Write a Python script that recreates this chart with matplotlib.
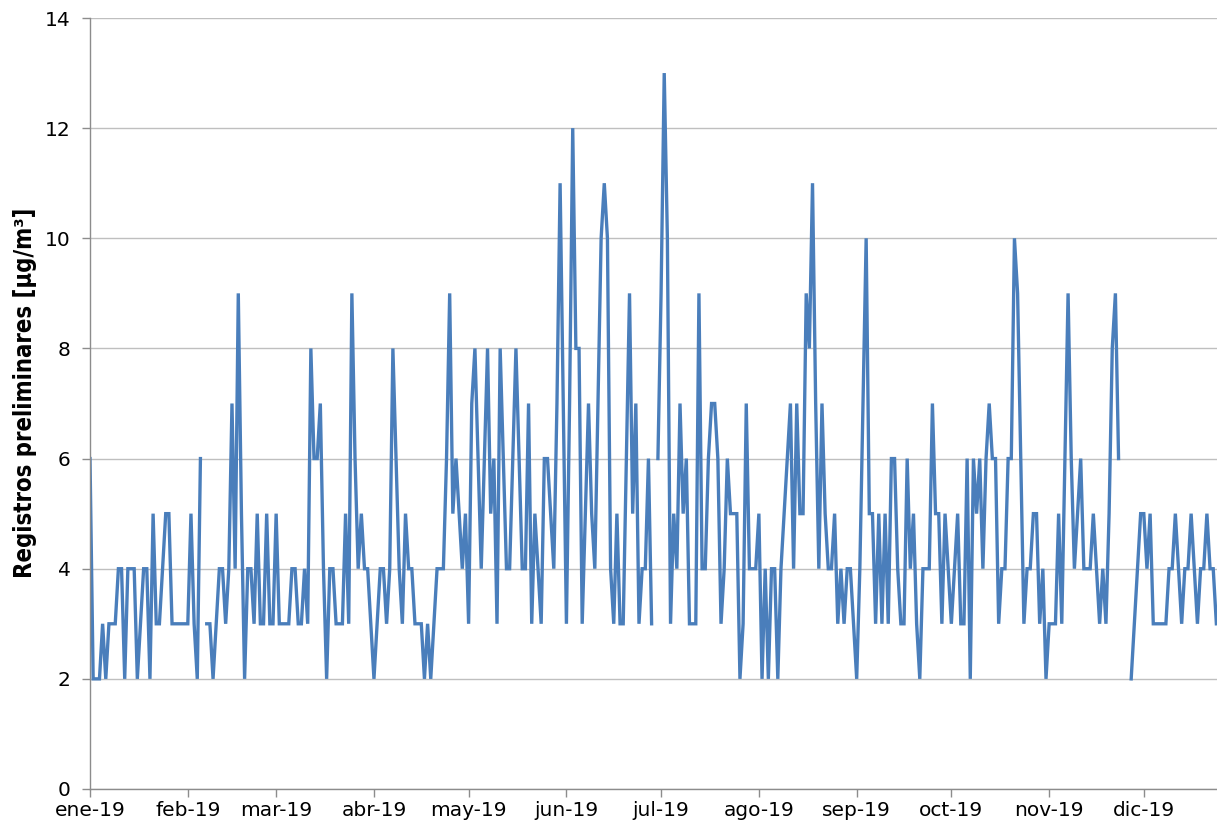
import numpy as np
import pandas as pd
import matplotlib
matplotlib.use('Agg')
import matplotlib.pyplot as plt
from matplotlib import font_manager

nan = np.nan

# daily values (2019), one list per month
ene = [6, 2, 2, 2, 3, 2, 3, 3, 3, 4, 4, 2, 4, 4, 4, 2, 3, 4, 4, 2, 5, 3, 3, 4, 5, 5, 3, 3, 3, 3, 3]
feb = [3, 5, 3, 2, 6, nan, 3, 3, 2, 3, 4, 4, 3, 4, 7, 4, 9, 5, 2, 4, 4, 3, 5, 3, 3, 5, 3, 3]
mar = [5, 3, 3, 3, 3, 4, 4, 3, 3, 4, 3, 8, 6, 6, 7, 4, 2, 4, 4, 3, 3, 3, 5, 3, 9, 6, 4, 5, 4, 4, 3]
abr = [2, 3, 4, 4, 3, 4, 8, 6, 4, 3, 5, 4, 4, 3, 3, 3, 2, 3, 2, 3, 4, 4, 4, 6, 9, 5, 6, 5, 4, 5]
may = [3, 7, 8, 6, 4, 6, 8, 5, 6, 3, 8, 6, 4, 4, 6, 8, 6, 4, 4, 7, 3, 5, 4, 3, 6, 6, 5, 4, 7, 11, 7]
jun = [3, 7, 12, 8, 8, 3, 5, 7, 5, 4, 7, 10, 11, 10, 4, 3, 5, 3, 3, 6, 9, 5, 7, 3, 4, 4, 6, 3, nan, 6]
jul = [9, 13, 10, 3, 5, 4, 7, 5, 6, 3, 3, 3, 9, 4, 4, 6, 7, 7, 6, 3, 4, 6, 5, 5, 5, 2, 3, 7, 4, 4, 4]
ago = [5, 2, 4, 2, 4, 4, 2, 4, 5, 6, 7, 4, 7, 5, 5, 9, 8, 11, 7, 4, 7, 5, 4, 4, 5, 3, 4, 3, 4, 4, 3]
sep = [2, 4, 7, 10, 5, 5, 3, 5, 3, 5, 3, 6, 6, 4, 3, 3, 6, 4, 5, 3, 2, 4, 4, 4, 7, 5, 5, 3, 5, 4]
oct_ = [3, 4, 5, 3, 3, 6, 2, 6, 5, 6, 4, 6, 7, 6, 6, 3, 4, 4, 6, 6, 10, 9, 6, 3, 4, 4, 5, 5, 3, 4, 2]
nov = [3, 3, 3, 5, 3, 6, 9, 6, 4, 5, 6, 4, 4, 4, 5, 4, 3, 4, 3, 5, 8, 9, 6, nan, nan, nan, 2, 3, 4, 5]
dic = [5, 4, 5, 3, 3, 3, 3, 3, 4, 4, 5, 4, 3, 4, 4, 5, 4, 3, 4, 4, 5, 4, 4, 3]  # picture is cut here

month_labels = ['ene-19', 'feb-19', 'mar-19', 'abr-19', 'may-19', 'jun-19',
                'jul-19', 'ago-19', 'sep-19', 'oct-19', 'nov-19', 'dic-19']

values = ene + feb + mar + abr + may + jun + jul + ago + sep + oct_ + nov + dic
start = pd.Timestamp('2019-01-01')
dates = pd.date_range(start, periods=len(values), freq='D')
month_starts = pd.date_range('2019-01-01', '2019-12-01', freq='MS')

# narrow bold face for the y label, if one is installed
installed = {f.name for f in font_manager.fontManager.ttflist}
narrow = [n for n in ['Liberation Sans Narrow', 'DejaVu Sans Condensed'] if n in installed]
if narrow:
    ylab_font = dict(family=[narrow[0], 'DejaVu Sans'], fontsize=19.3)
else:
    ylab_font = dict(family=['DejaVu Sans'], fontsize=17.1, fontstretch='condensed')

fig = plt.figure(figsize=(12.17, 8.26), dpi=100)
ax = fig.add_axes([90 / 1217, 37 / 826, 1 - 90 / 1217, 771 / 826])

ax.plot(dates, values, color='#4a7ebb', lw=2.4, solid_joinstyle='miter')

ax.set_xlim(start, start + pd.Timedelta(days=357.2))
ax.set_ylim(0, 14)
ax.set_yticks(np.arange(0, 15, 2))
ax.set_xticks(month_starts)
ax.set_xticklabels(month_labels)

ax.grid(axis='y', color='#bfbfbf', lw=1)
ax.set_axisbelow(True)
for s in ['top', 'right']:
    ax.spines[s].set_visible(False)
for s in ['left', 'bottom']:
    ax.spines[s].set_color('#8c8c8c')
    ax.spines[s].set_linewidth(1)
ax.tick_params(axis='both', colors='#8c8c8c', length=6, width=1,
               labelsize=14.5, labelcolor='black')
ax.tick_params(axis='x', pad=3)
ax.tick_params(axis='y', pad=8)

ax.set_ylabel('Registros preliminares [µg/m³]', fontweight='bold', **ylab_font)
ax.yaxis.set_label_coords(-0.047, 0.514)

fig.savefig('out.png', dpi=100)
